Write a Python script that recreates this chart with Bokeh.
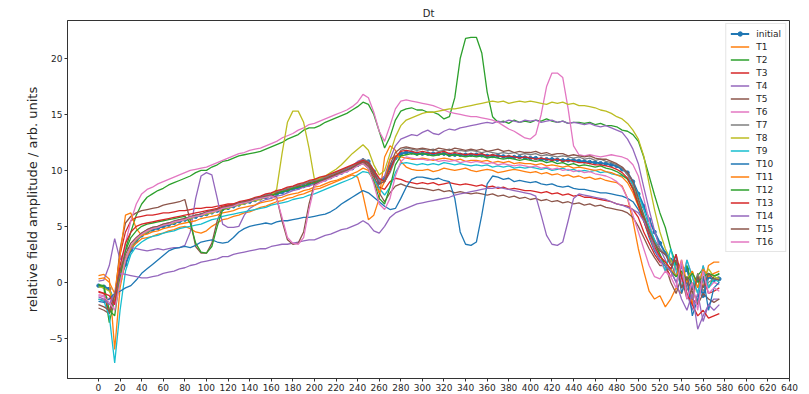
from bokeh.plotting import figure
from bokeh.models import Range1d, FixedTicker, Legend, LegendItem
from bokeh.embed import file_html
from bokeh.resources import INLINE

# cell position along the structure (shared sampling grid)
position = list(range(0, 576, 5))

x_ticks = list(range(0, 660, 20))
y_ticks = [-5, 0, 5, 10, 15, 20]

initial = [
    -0.3, -0.4, -0.6, -1.8, 0.3, 1.6, 2.9, 3.7, 4.2, 4.5,
    4.7, 4.85, 5.0, 5.15, 5.3, 5.45, 5.6, 5.75, 5.85, 6.0,
    6.1, 6.25, 6.4, 6.55, 6.65, 6.8, 6.95, 7.1, 7.2, 7.35,
    7.5, 7.6, 7.75, 7.9, 8.05, 8.2, 8.35, 8.45, 8.6, 8.75,
    8.9, 9.05, 9.2, 9.4, 9.6, 9.8, 10.0, 10.2, 10.5, 10.9,
    10.8, 9.9, 8.9, 9.3, 10.3, 11.1, 11.5, 11.6, 11.6, 11.5,
    11.5, 11.5, 11.5, 11.5, 11.5, 11.4, 11.4, 11.4, 11.4, 11.4,
    11.4, 11.35, 11.3, 11.3, 11.3, 11.25, 11.2, 11.2, 11.2, 11.15,
    11.1, 11.1, 11.0, 11.0, 11.0, 10.95, 10.9, 10.9, 10.9, 10.85,
    10.8, 10.75, 10.7, 10.65, 10.6, 10.5, 10.4, 10.1, 9.8, 9.0,
    7.9, 6.8, 5.6, 4.5, 3.5, 2.6, 2.0, 1.5, 0.6, 1.2,
    -0.5, 0.3, -1.2, 0.5, 0.2, 0.3,
]

t1 = [
    0.6, 0.7, 0.3, -6.0, -0.5, 2.0, 3.0, 3.5, 3.9, 4.0,
    4.1, 4.3, 4.4, 4.6, 4.7, 4.9, 5.0, 4.8, 4.5, 4.4,
    4.6, 5.0, 5.3, 5.6, 5.7, 5.9, 6.0, 6.2, 6.3, 6.5,
    6.7, 6.8, 7.0, 7.2, 7.3, 7.5, 7.6, 7.8, 7.9, 8.1,
    8.3, 8.4, 8.6, 8.8, 9.0, 9.2, 9.4, 9.6, 9.4, 7.8,
    5.6, 6.0, 7.5, 11.2, 12.2, 11.8, 10.8, 10.3, 10.1, 10.0,
    10.0, 10.1, 9.9, 10.0, 10.2, 10.1, 10.0, 10.1, 10.2, 10.0,
    9.9, 10.0, 10.1, 10.0, 9.8, 9.9, 10.0, 10.1, 10.0, 9.9,
    9.8, 9.9, 9.7, 9.8, 9.6, 9.7, 9.5, 9.6, 9.4, 9.5,
    9.3, 9.4, 9.2, 9.3, 9.1, 9.0, 8.9, 8.6, 7.5, 5.5,
    3.0, 1.0, -0.8, -1.5, -1.2, -2.2, -1.5, -0.5, -1.0, 0.5,
    -2.0, 0.8, -0.5, 1.5, 1.8, 1.8,
]

t2 = [
    -0.2, -0.5, -3.6, -1.5, 1.0, 3.0, 4.5, 6.0, 7.0, 7.6,
    7.9, 8.2, 8.4, 8.7, 8.9, 9.1, 9.3, 9.5, 9.8, 10.0,
    10.0, 10.3, 10.5, 10.8, 10.9, 11.1, 11.3, 11.4, 11.5, 11.6,
    11.7, 11.9, 12.1, 12.3, 12.5, 12.8, 13.0, 13.2, 13.6, 13.8,
    13.8, 14.0, 14.3, 14.5, 14.7, 14.9, 15.1, 15.4, 15.7, 16.1,
    15.9, 15.0, 13.5, 12.0, 13.0, 14.5, 15.3, 15.5, 15.6, 15.4,
    15.4, 15.2, 15.2, 15.0, 14.6, 14.8, 16.5, 20.0, 21.8, 21.9,
    21.9, 20.5, 17.0, 14.8, 14.3, 14.4, 14.2, 14.5, 14.3, 14.4,
    14.3, 14.5, 14.4, 14.6, 14.4, 14.3, 14.4, 14.2, 14.3, 14.3,
    14.2, 14.3, 14.1, 14.2, 14.0, 14.0, 13.9, 13.6, 13.5, 13.2,
    12.6, 11.2, 9.5, 7.8, 6.2, 4.9, 3.0, 1.6, 0.9, 1.5,
    -0.3, 0.6, 1.2, -0.5, 0.5, 0.8,
]

t3 = [
    -0.8, -1.0, -2.8, -1.5, 2.5, 4.5, 5.5, 5.8, 5.9, 6.0,
    6.0, 6.1, 6.2, 6.2, 6.3, 6.4, 6.4, 6.5, 6.6, 6.6,
    6.7, 6.7, 6.8, 6.9, 7.0, 7.0, 7.1, 7.2, 7.3, 7.4,
    7.6, 7.7, 7.9, 8.0, 8.2, 8.3, 8.5, 8.6, 8.8, 8.9,
    9.0, 9.2, 9.3, 9.5, 9.7, 9.9, 10.1, 10.3, 10.5, 10.7,
    10.2, 9.4, 8.5, 8.3, 9.0, 9.3, 9.2, 9.0, 8.9, 8.8,
    8.9, 8.8, 8.9, 8.7, 8.8, 8.9, 8.8, 8.7, 8.8, 8.7,
    8.6, 8.7, 8.5, 8.6, 8.4, 8.5, 8.3, 8.4, 8.3, 8.2,
    8.2, 8.1, 8.0, 8.1, 7.9, 8.0, 7.8, 7.9, 7.7, 7.8,
    7.6, 7.6, 7.5, 7.4, 7.3, 7.2, 7.0, 6.9, 6.8, 6.5,
    5.8, 4.5, 3.5, 2.5, 1.8, 1.5, 0.5, 1.5, -0.5, 0.0,
    -1.5, -2.0, 0.5, -1.0, -0.8, -0.5,
]

t4 = [
    0.1, 0.2, 1.5, 3.9, 2.0, 3.0, 3.1, 3.0, 2.9, 2.8,
    2.9, 3.0, 2.9, 3.0, 3.1, 3.1, 3.3, 4.5, 7.5, 9.5,
    9.8, 9.6, 7.5, 5.2, 4.9, 4.9, 5.0, 6.0, 6.6, 6.9,
    7.2, 7.4, 7.5, 7.7, 7.8, 8.0, 8.2, 8.3, 8.5, 8.6,
    8.8, 8.9, 9.1, 9.3, 9.5, 9.8, 10.1, 10.4, 10.8, 11.0,
    10.5, 9.6, 9.0, 9.5, 11.0, 12.2, 12.8, 13.0, 13.2, 13.1,
    13.4, 13.6, 13.3, 13.2, 13.5, 13.7, 13.6, 13.8, 13.9, 14.0,
    14.1, 14.2, 14.3, 14.2, 14.4, 14.3, 14.5, 14.4, 14.3, 14.5,
    14.4, 14.5, 14.3, 14.4, 14.5, 14.3, 14.4, 14.2, 14.3, 14.2,
    14.1, 14.2, 14.0, 13.9, 14.0, 13.8, 13.6, 13.4, 12.8, 11.9,
    10.6, 8.5, 6.5, 4.6, 3.0, 2.0, 1.0, 0.0, 1.5, -1.0,
    -2.5, -1.0, -3.5, -2.0, -1.5, -1.5,
]

t5 = [
    -2.3, -2.5, -2.8, -1.5, 3.0, 5.3, 5.9, 6.2, 6.4, 6.5,
    6.6, 6.7, 6.9, 7.0, 7.1, 7.2, 7.4, 5.5, 3.2, 2.6,
    2.6, 3.5, 5.5, 6.7, 6.8, 6.9, 7.0, 7.2, 7.3, 7.5,
    7.6, 7.8, 7.9, 8.1, 8.2, 8.4, 8.5, 8.7, 8.8, 9.0,
    9.1, 9.3, 9.4, 9.6, 9.8, 10.0, 10.2, 10.4, 10.6, 10.8,
    10.4, 9.6, 8.0, 7.2, 8.0, 8.6, 8.8, 8.6, 8.5, 8.4,
    8.4, 8.3, 8.2, 8.3, 8.1, 8.2, 8.0, 8.1, 8.0, 7.9,
    8.0, 7.9, 7.8, 7.9, 7.7, 7.8, 7.6, 7.7, 7.5, 7.6,
    7.4, 7.5, 7.3, 7.4, 7.2, 7.3, 7.1, 7.2, 7.0, 7.1,
    6.9, 7.0, 6.8, 6.9, 6.7, 6.6, 6.5, 6.4, 6.2, 5.8,
    5.0, 4.0, 3.0, 2.2, 1.5, 1.5, 0.0, -1.0, 0.5, -1.5,
    -0.5, -2.0, -1.0, -1.5, -1.8, -1.5,
]

t6 = [
    -1.1, -1.2, -1.5, -2.0, 0.5, 3.5, 5.5, 7.0, 7.9, 8.3,
    8.5, 8.8, 9.0, 9.2, 9.4, 9.6, 9.8, 10.0, 10.1, 10.2,
    10.3, 10.5, 10.7, 10.9, 11.1, 11.3, 11.5, 11.6, 11.8, 11.9,
    12.0, 12.2, 12.4, 12.6, 12.9, 13.1, 13.3, 13.6, 13.8, 14.1,
    14.2, 14.4, 14.6, 14.8, 15.0, 15.2, 15.4, 15.7, 16.1, 16.8,
    16.5, 15.2, 13.5, 12.6, 14.0, 15.5, 16.2, 16.3, 16.2, 16.1,
    16.0, 15.9, 15.8, 15.6, 15.4, 15.2, 15.1, 15.0, 14.9, 14.8,
    14.8, 14.7, 14.6, 14.5, 14.3, 14.0, 13.7, 13.5, 13.2, 12.9,
    12.8, 13.2, 15.0, 17.5, 18.7, 18.7, 18.3, 15.5, 12.2, 11.4,
    11.3, 11.4, 11.3, 11.2, 11.3, 11.4, 11.3, 11.2, 11.0, 10.5,
    9.5, 7.5, 5.5, 3.5, 2.0, 1.0, 0.5, 1.5, 0.0, 2.0,
    0.5, -1.0, 1.5, -0.5, 0.0, -0.2,
]

t7 = [
    -1.5, -1.6, -2.0, -1.8, 0.5, 2.2, 3.2, 3.9, 4.4, 4.7,
    4.9, 5.0, 5.2, 5.3, 5.5, 5.6, 5.7, 5.9, 6.0, 6.1,
    6.3, 6.4, 6.5, 6.7, 6.8, 6.9, 7.1, 7.2, 7.4, 7.5,
    7.6, 7.8, 7.9, 8.1, 8.2, 8.4, 8.5, 8.7, 8.8, 9.0,
    9.1, 9.2, 9.4, 9.6, 9.8, 10.0, 10.2, 10.4, 10.7, 11.0,
    10.8, 10.0, 9.2, 9.0, 9.8, 11.0, 11.8, 12.0, 11.9, 11.8,
    11.9, 11.8, 11.9, 11.7, 11.8, 11.9, 11.7, 11.8, 11.7, 11.8,
    11.7, 11.6, 11.7, 11.6, 11.5, 11.6, 11.5, 11.6, 11.4, 11.5,
    11.4, 11.5, 11.3, 11.4, 11.3, 11.2, 11.3, 11.2, 11.1, 11.2,
    11.0, 11.1, 10.9, 11.0, 10.8, 10.7, 10.5, 10.2, 9.6, 8.6,
    7.3, 6.0, 4.8, 3.8, 3.0, 2.5, 1.8, 0.5, 1.8, -0.5,
    -1.5, 0.8, -0.8, 0.0, 0.3, 0.5,
]

t8 = [
    -0.4, -0.5, -0.8, -1.5, 0.5, 2.0, 3.2, 3.8, 4.2, 4.5,
    4.8, 4.9, 5.1, 5.2, 5.3, 5.5, 5.6, 5.7, 5.9, 6.0,
    6.1, 6.2, 6.4, 6.5, 6.6, 6.8, 6.9, 7.0, 7.2, 7.3,
    7.4, 7.6, 7.7, 8.3, 11.5, 14.3, 15.3, 15.3, 14.3, 12.0,
    9.2, 9.3, 9.5, 9.8, 10.1, 10.5, 11.0, 11.5, 11.9, 12.3,
    11.8, 10.5, 9.6, 10.0, 11.5, 13.0, 14.0, 14.5, 14.7, 14.9,
    15.1, 15.2, 15.2, 15.3, 15.4, 15.5, 15.5, 15.6, 15.7, 15.8,
    15.9, 16.0, 16.1, 16.2, 16.1, 16.2, 16.0, 16.1, 16.2, 16.1,
    16.2, 16.1, 16.0, 15.9, 16.1, 16.0, 16.1, 15.9, 16.0, 15.8,
    15.8, 15.7, 15.6, 15.4, 15.3, 15.1, 14.8, 14.6, 14.2, 13.6,
    12.8, 11.3, 8.8, 6.5, 4.5, 3.0, 2.0, 1.2, 0.8, 0.3,
    1.0, -0.5, 0.3, 1.2, 0.5, 0.3,
]

t9 = [
    -1.5, -1.7, -3.0, -7.2, -2.5, 1.0, 2.5, 3.2, 3.6, 3.9,
    4.1, 4.2, 4.4, 4.5, 4.6, 4.8, 4.9, 5.0, 5.1, 5.2,
    5.4, 5.6, 5.7, 5.9, 6.0, 6.1, 6.2, 6.3, 6.4, 6.5,
    6.6, 6.7, 6.9, 7.0, 7.1, 7.2, 7.4, 7.5, 7.6, 7.8,
    7.9, 8.1, 8.3, 8.5, 8.7, 8.9, 9.1, 9.3, 9.6, 9.9,
    9.8, 9.2, 8.4, 7.8, 8.5, 9.8, 10.6, 10.7, 10.6, 10.5,
    10.6, 10.5, 10.6, 10.5, 10.7, 10.6, 10.5, 10.6, 10.5, 10.4,
    10.5, 10.4, 10.5, 10.3, 10.4, 10.3, 10.4, 10.2, 10.3, 10.2,
    10.3, 10.2, 10.1, 10.2, 10.0, 10.1, 10.2, 10.0, 10.1, 9.9,
    10.0, 9.9, 10.0, 9.8, 9.9, 9.7, 9.6, 9.5, 9.3, 8.8,
    7.8, 6.5, 5.0, 3.8, 2.5, 1.0, 3.0, 1.0, -0.5, 2.0,
    0.5, -1.0, 1.5, -0.5, 0.3, 0.0,
]

t10 = [
    -1.7, -1.8, -1.5, -1.0, -0.8, -0.5, -0.3, 0.2, 0.8, 1.2,
    1.6, 2.0, 2.4, 2.8, 3.0, 3.1, 3.2, 3.1, 3.3, 3.6,
    3.7, 3.8, 3.6, 3.5, 3.6, 4.0, 4.5, 4.8, 5.0, 5.1,
    5.2, 5.3, 5.2, 5.4, 5.5, 5.5, 5.6, 5.7, 5.8, 5.8,
    5.9, 6.0, 6.1, 6.3, 6.6, 7.0, 7.3, 7.6, 7.9, 8.2,
    8.0, 7.6, 7.2, 6.8, 6.5, 6.6, 7.5, 8.5, 9.2, 9.4,
    9.4, 9.3, 9.2, 9.3, 9.1, 9.0, 7.5, 4.5, 3.4, 3.3,
    3.6, 6.0, 8.8, 9.5, 9.4, 9.2, 9.3, 9.0, 9.1, 9.0,
    8.9, 9.0, 8.8, 8.7, 8.8, 8.6, 8.5, 8.6, 8.4, 8.3,
    8.3, 8.2, 8.1, 8.0, 8.0, 7.9, 7.8, 7.7, 7.5, 7.2,
    6.5, 5.5, 4.0, 2.8, 2.0, 1.5, 1.0, 2.5, -1.0, 0.5,
    -3.0, -1.5, 0.5, -2.5, -0.5, 0.0,
]

t11 = [
    0.3, 0.4, 0.0, -1.0, 2.5, 6.0, 6.2, 4.8, 4.2, 4.3,
    4.5, 4.6, 4.8, 4.9, 5.0, 5.2, 5.3, 5.4, 5.5, 5.7,
    5.8, 5.9, 6.0, 6.2, 6.3, 6.4, 6.6, 6.7, 6.8, 6.9,
    7.1, 7.2, 7.3, 7.5, 7.6, 7.8, 7.9, 8.0, 8.2, 8.3,
    8.5, 8.6, 8.8, 9.0, 9.1, 9.3, 9.5, 9.7, 9.9, 10.2,
    10.0, 9.0, 8.0, 9.0, 11.0, 11.3, 11.2, 11.1, 11.0, 11.0,
    11.1, 11.0, 10.9, 11.0, 11.1, 11.0, 10.9, 11.0, 10.8, 10.9,
    10.9, 10.8, 10.9, 10.7, 10.8, 10.7, 10.8, 10.6, 10.7, 10.6,
    10.6, 10.5, 10.6, 10.4, 10.5, 10.4, 10.3, 10.4, 10.2, 10.3,
    10.2, 10.1, 10.0, 10.1, 9.9, 9.8, 9.6, 9.4, 8.9, 8.0,
    6.8, 5.5, 4.2, 3.0, 2.3, 1.8, 1.2, 0.5, 2.0, 0.0,
    1.0, -0.5, 1.2, 0.5, 0.8, 1.0,
]

t12 = [
    -0.2, -0.3, -2.5, -3.0, 0.5, 2.8, 4.0, 4.6, 5.0, 5.2,
    5.3, 5.4, 5.5, 5.6, 5.7, 5.8, 5.9, 5.3, 3.5, 2.7,
    2.6, 3.2, 5.0, 6.5, 6.7, 6.8, 7.0, 7.1, 7.2, 7.4,
    7.5, 7.6, 7.8, 7.9, 8.1, 8.2, 8.4, 8.5, 8.6, 8.8,
    8.9, 9.1, 9.2, 9.4, 9.6, 9.8, 10.0, 10.2, 10.4, 10.6,
    10.2, 9.0, 7.5, 7.0, 8.5, 10.5, 11.3, 11.4, 11.5, 11.4,
    11.5, 11.4, 11.3, 11.4, 11.5, 11.3, 11.4, 11.3, 11.2, 11.3,
    11.2, 11.3, 11.1, 11.2, 11.1, 11.0, 11.1, 11.0, 10.9, 11.0,
    10.9, 10.8, 10.9, 10.7, 10.8, 10.6, 10.7, 10.5, 10.6, 10.4,
    10.5, 10.4, 10.3, 10.4, 10.2, 10.1, 9.9, 9.6, 9.2, 8.4,
    7.0, 5.8, 4.6, 3.5, 2.5, 1.5, 1.0, 0.5, 1.0, 0.2,
    0.8, 0.0, 0.5, 0.8, 0.6, 0.7,
]

t13 = [
    -0.9, -1.0, -1.2, -2.0, 1.5, 3.5, 4.5, 5.0, 5.2, 5.3,
    5.4, 5.5, 5.6, 5.7, 5.8, 5.9, 6.0, 6.1, 6.2, 6.3,
    6.4, 6.5, 6.6, 6.8, 6.9, 7.0, 7.2, 7.3, 7.4, 7.6,
    7.7, 7.9, 8.0, 8.2, 8.3, 8.5, 8.6, 8.8, 8.9, 9.1,
    9.2, 9.4, 9.5, 9.7, 9.9, 10.1, 10.3, 10.5, 10.7, 10.9,
    10.7, 10.0, 9.3, 9.0, 10.0, 11.2, 11.7, 11.8, 11.7, 11.6,
    11.7, 11.6, 11.5, 11.6, 11.7, 11.5, 11.6, 11.5, 11.4, 11.5,
    11.4, 11.5, 11.3, 11.4, 11.3, 11.2, 11.3, 11.2, 11.1, 11.2,
    11.1, 11.0, 11.1, 11.0, 10.9, 11.0, 10.8, 10.9, 10.8, 10.7,
    10.7, 10.6, 10.5, 10.5, 10.4, 10.3, 10.1, 9.8, 9.3, 8.3,
    6.9, 5.5, 4.2, 3.2, 2.3, 1.8, 1.2, 2.5, 0.5, -1.0,
    -2.0, -3.0, -2.5, -3.2, -3.0, -2.8,
]

t14 = [
    -1.3, -1.5, -2.0, -1.0, 0.8, 0.7, 0.6, 0.5, 0.4, 0.4,
    0.5, 0.6, 0.8, 0.9, 1.0, 1.2, 1.3, 1.5, 1.6, 1.8,
    1.9, 2.0, 2.1, 2.3, 2.3, 2.5, 2.6, 2.7, 2.8, 2.9,
    3.0, 3.0, 3.2, 3.3, 3.4, 3.4, 3.5, 3.6, 3.7, 3.8,
    3.8, 4.0, 4.2, 4.3, 4.5, 4.7, 4.8, 5.0, 5.2, 5.5,
    5.2, 4.6, 4.4, 5.0, 5.8, 6.2, 6.4, 6.6, 6.8, 7.0,
    7.1, 7.2, 7.3, 7.4, 7.5, 7.6, 7.8, 7.9, 8.0, 8.1,
    8.2, 8.3, 8.4, 8.4, 8.5, 8.4, 8.3, 8.2, 8.1, 8.0,
    7.9, 7.7, 6.0, 4.2, 3.4, 3.3, 3.6, 5.5, 7.5, 7.9,
    7.8, 7.7, 7.6, 7.5, 7.4, 7.2, 7.0, 6.9, 6.7, 6.5,
    6.2, 5.5, 4.5, 3.0, 2.0, 1.5, 1.0, 0.0, -1.5, -2.5,
    -1.0, -4.2, -3.0, -2.0, -2.5, -2.0,
]

t15 = [
    -2.0, -2.2, -2.5, -1.2, 1.0, 2.5, 3.5, 4.0, 4.4, 4.7,
    4.9, 5.0, 5.2, 5.3, 5.4, 5.6, 5.7, 5.8, 6.0, 6.1,
    6.3, 6.4, 6.5, 6.7, 6.8, 6.9, 7.1, 7.2, 7.3, 7.5,
    7.6, 7.7, 7.8, 7.6, 5.5, 3.8, 3.4, 3.5, 4.5, 7.0,
    8.8, 9.0, 9.2, 9.4, 9.6, 9.8, 10.0, 10.2, 10.5, 10.8,
    10.6, 9.8, 8.8, 9.0, 10.5, 11.6, 12.0, 12.1, 12.0, 11.9,
    12.0, 11.9, 11.8, 12.0, 11.9, 11.8, 12.0, 11.9, 11.8, 11.9,
    11.8, 11.9, 11.7, 11.8, 11.9, 11.7, 11.8, 11.6, 11.7, 11.6,
    11.6, 11.7, 11.5, 11.6, 11.4, 11.5, 11.5, 11.3, 11.4, 11.3,
    11.2, 11.3, 11.1, 11.0, 11.0, 10.8, 10.6, 10.3, 9.8, 9.0,
    7.5, 6.0, 4.5, 3.5, 2.8, 2.5, 1.5, 2.0, -0.5, 0.5,
    -1.0, 0.5, -0.5, 0.8, 0.3, 0.2,
]

t16 = [
    -1.2, -1.3, -1.8, -2.5, 0.0, 2.0, 3.3, 3.9, 4.3, 4.6,
    4.8, 4.9, 5.1, 5.2, 5.4, 5.5, 5.6, 5.8, 5.9, 6.0,
    6.2, 6.3, 6.4, 6.6, 6.7, 6.8, 7.0, 7.1, 7.2, 7.4,
    7.5, 7.6, 7.7, 7.5, 5.8, 4.0, 3.5, 3.4, 4.0, 6.5,
    8.6, 8.9, 9.1, 9.3, 9.5, 9.7, 9.9, 10.1, 10.4, 10.6,
    10.2, 8.8, 7.0, 6.5, 7.5, 9.5, 10.8, 11.2, 11.1, 11.0,
    11.0, 10.9, 11.0, 10.8, 10.9, 10.8, 10.9, 10.7, 10.8, 10.7,
    10.8, 10.7, 10.6, 10.7, 10.5, 10.6, 10.5, 10.4, 10.5, 10.4,
    10.3, 10.4, 10.2, 10.3, 10.1, 10.2, 10.0, 10.1, 9.9, 10.0,
    9.8, 9.9, 9.7, 9.6, 9.5, 9.3, 9.0, 8.5, 7.5, 6.0,
    4.5, 3.0, 1.5, 0.5, 0.3, 1.0, 0.5, -0.5, 2.0, -1.5,
    0.0, -2.5, 1.0, -1.0, -0.5, -0.8,
]

names = ["initial"] + ["T%d" % i for i in range(1, 17)]
profiles = [initial, t1, t2, t3, t4, t5, t6, t7, t8, t9, t10,
            t11, t12, t13, t14, t15, t16]
palette = ["#1f77b4", "#ff7f0e", "#2ca02c", "#d62728", "#9467bd",
           "#8c564b", "#e377c2", "#7f7f7f", "#bcbd22", "#17becf"]

for prof in profiles:
    assert len(prof) == len(position)

FONT = "DejaVu Sans"
TEXT = "#262626"

p = figure(
    width=809, height=394,
    x_range=Range1d(-28.7, 640), y_range=Range1d(-8.6, 23.4),
    output_backend="svg", toolbar_location=None,
    title="Dt",
    min_border_left=67, min_border_right=20,
    min_border_top=20, min_border_bottom=16,
)
p.background_fill_color = "white"
p.border_fill_color = "white"
p.outline_line_color = "#333333"
p.outline_line_width = 1

p.title.text_font = FONT
p.title.text_font_size = "10px"
p.title.text_font_style = "normal"
p.title.text_color = TEXT
p.title.align = "center"
p.title.standoff = 3

p.xgrid.visible = False
p.ygrid.visible = False

for ax in (p.xaxis[0], p.yaxis[0]):
    ax.axis_line_color = "#333333"
    ax.major_tick_line_color = "#333333"
    ax.major_tick_in = 0
    ax.major_tick_out = 3
    ax.minor_tick_line_color = None
    ax.major_label_text_font = FONT
    ax.major_label_text_font_size = "9px"
    ax.major_label_text_color = TEXT
    ax.major_label_standoff = 2

p.xaxis.ticker = FixedTicker(ticks=x_ticks)
p.yaxis.ticker = FixedTicker(ticks=y_ticks)

p.yaxis.axis_label = "relative field amplitude / arb. units"
p.yaxis.axis_label_text_font = FONT
p.yaxis.axis_label_text_font_size = "13px"
p.yaxis.axis_label_text_font_style = "normal"
p.yaxis.axis_label_text_color = TEXT
p.yaxis.axis_label_standoff = 6

items = []
for i, (name, prof) in enumerate(zip(names, profiles)):
    color = palette[i % len(palette)]
    if name == "initial":
        ln = p.line(position, prof, line_color=color, line_width=2.0)
        dots = p.scatter(position, prof, size=3.5, fill_color=color,
                         line_color=color)
        items.append(LegendItem(label=name, renderers=[ln, dots]))
    else:
        ln = p.line(position, prof, line_color=color, line_width=1.3)
        items.append(LegendItem(label=name, renderers=[ln]))

legend = Legend(
    items=items, location="top_right", margin=3,
    padding=4, spacing=2,
    glyph_width=19, glyph_height=11, label_height=11,
    label_standoff=7,
    label_text_font=FONT, label_text_font_size="9px",
    label_text_color=TEXT,
    border_line_color="#cccccc", border_line_width=1,
    background_fill_color="white", background_fill_alpha=0.85,
)
p.add_layout(legend)

open("out.html", "w").write(file_html(p, INLINE))
